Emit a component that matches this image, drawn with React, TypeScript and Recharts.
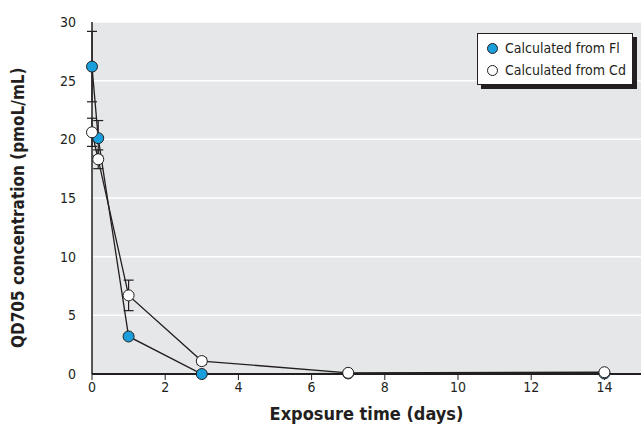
import { LineChart, Line, XAxis, YAxis, CartesianGrid, ErrorBar } from 'recharts';

const DAYS = [0, 0.17, 1, 3, 7, 14];
const FROM_FL = [26.2, 20.1, 3.2, 0, 0.05, 0.05];
const FL_ERR = [3.0, 1.5, 0.2, 0, 0, 0];
const FROM_CD = [20.6, 18.3, 6.7, 1.1, 0.1, 0.15];
const CD_ERR = [1.2, 0.8, 1.3, 0.3, 0, 0];
const X_TICKS = [0, 2, 4, 6, 8, 10, 12, 14];
const Y_TICKS = [0, 5, 10, 15, 20, 25, 30];

const data = DAYS.map((d, i) => ({
  day: d,
  fl: FROM_FL[i],
  flErr: FL_ERR[i],
  cd: FROM_CD[i],
  cdErr: CD_ERR[i]
}));

const FONT = '"Liberation Sans Narrow", "DejaVu Sans Condensed", "Roboto Condensed", sans-serif';
const BLUE = '#1b9fdc';
const INK = '#231f20';

function LegendBox() {
  const row = { display: 'flex', alignItems: 'center', gap: 7, height: 22, whiteSpace: 'nowrap' } as const;
  const dot = (fill: string) => (
    <span
      style={{
        display: 'inline-block',
        width: 9,
        height: 9,
        borderRadius: '50%',
        background: fill,
        border: `1px solid ${INK}`
      }}
    />
  );
  return (
    <div
      style={{
        position: 'absolute',
        left: 477,
        top: 33,
        boxSizing: 'border-box',
        width: 156,
        height: 52,
        background: '#fff',
        border: `1px solid ${INK}`,
        boxShadow: `4px 4px 0 ${INK}`,
        padding: '3px 0 3px 9px',
        fontFamily: FONT,
        fontSize: 14,
        color: INK
      }}
    >
      <div style={row}>
        {dot(BLUE)}
        <span>Calculated from Fl</span>
      </div>
      <div style={row}>
        {dot('#fff')}
        <span>Calculated from Cd</span>
      </div>
    </div>
  );
}

export default function App() {
  return (
    <div style={{ position: 'fixed', left: 0, top: 0, width: 641, height: 430, background: '#fff' }}>
      <LineChart width={641} height={430} data={data} margin={{ top: 22, right: 0, bottom: 26, left: 32 }}>
        <CartesianGrid fill="#e6e7e8" stroke="#fff" strokeWidth={1.5} vertical={false} />
        <XAxis
          dataKey="day"
          type="number"
          domain={[0, 15]}
          ticks={X_TICKS}
          height={30}
          axisLine={{ stroke: INK, strokeWidth: 2 }}
          tickLine={{ stroke: INK }}
          tickSize={6}
          tick={{ fill: INK, fontSize: 14, fontFamily: FONT }}
          label={{
            value: 'Exposure time (days)',
            position: 'insideBottom',
            offset: -16,
            fill: INK,
            fontSize: 18,
            fontWeight: 'bold',
            fontFamily: FONT
          }}
        />
        <YAxis
          type="number"
          domain={[0, 30]}
          ticks={Y_TICKS}
          width={60}
          axisLine={{ stroke: INK, strokeWidth: 1.5 }}
          tickLine={false}
          tickMargin={10}
          tick={{ fill: INK, fontSize: 14, fontFamily: FONT }}
          label={{
            value: 'QD705 concentration (pmoL/mL)',
            angle: -90,
            position: 'insideLeft',
            offset: -14,
            dy: 150,
            fill: INK,
            fontSize: 17,
            fontWeight: 'bold',
            fontFamily: FONT
          }}
        />
        <Line
          dataKey="fl"
          stroke={INK}
          strokeWidth={1.3}
          dot={{ r: 5.5, fill: BLUE, stroke: INK, strokeWidth: 1 }}
          isAnimationActive={false}
        >
          <ErrorBar dataKey="flErr" width={5} stroke={INK} strokeWidth={1.2} direction="y" />
        </Line>
        <Line
          dataKey="cd"
          stroke={INK}
          strokeWidth={1.3}
          dot={{ r: 5.5, fill: '#fff', stroke: INK, strokeWidth: 1 }}
          isAnimationActive={false}
        >
          <ErrorBar dataKey="cdErr" width={5} stroke={INK} strokeWidth={1.2} direction="y" />
        </Line>
      </LineChart>
      <LegendBox />
    </div>
  );
}
